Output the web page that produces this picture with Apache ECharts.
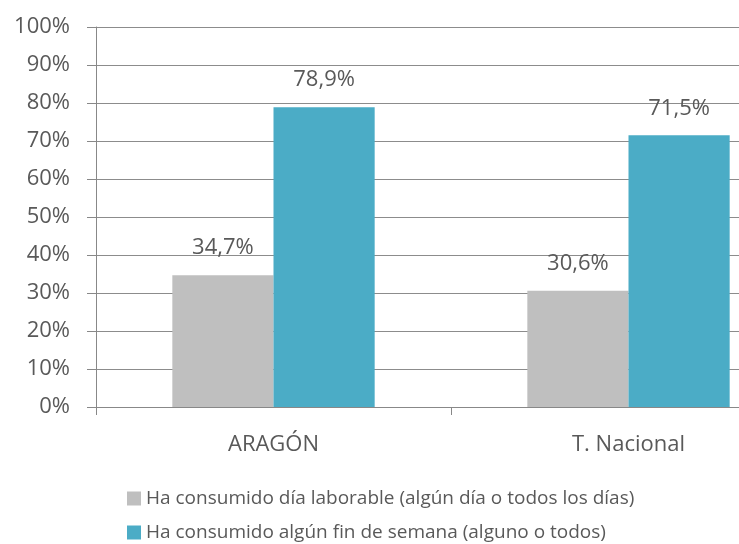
<!DOCTYPE html>
<html>
<head>
<meta charset="utf-8">
<script src="https://cdn.jsdelivr.net/npm/echarts@6/dist/echarts.min.js"></script>
<style>
  html, body { margin: 0; padding: 0; background: #fff; }
  #chart { width: 739px; height: 544px; }
</style>
</head>
<body>
<div id="chart"></div>
<script>
var categories = ['ARAGÓN', 'T. Nacional'];
var seriesNames = [
  'Ha consumido día laborable (algún día o todos los días)',
  'Ha consumido algún fin de semana (alguno o todos)'
];
var laborable = [34.7, 30.6];
var finSemana = [78.9, 71.5];

var ink = '#595959';
var font = 'Open Sans';

function pct(v) { return v.toFixed(1).replace('.', ',') + '%'; }

var chart = echarts.init(document.getElementById('chart'), null, { renderer: 'canvas' });

var labelStyle = {
  show: true,
  position: 'top',
  distance: 16,
  color: ink,
  fontFamily: font,
  fontSize: 22,
  formatter: function(p) { return pct(p.value); }
};

function legendRow(name, top) {
  return {
    left: 122,
    top: top,
    itemWidth: 14,
    itemHeight: 14,
    icon: 'rect',
    textStyle: { color: ink, fontFamily: font, fontSize: 19 },
    data: [name]
  };
}

chart.setOption({
  animation: false,
  backgroundColor: '#fff',
  grid: { left: 96, top: 27, width: 710, height: 380, outerBoundsMode: 'none', containLabel: false },
  legend: [legendRow(seriesNames[0], 484), legendRow(seriesNames[1], 518)],
  xAxis: {
    type: 'category',
    data: categories,
    axisLine: { lineStyle: { color: '#888', width: 1 } },
    axisTick: { show: true, length: 8, lineStyle: { color: '#888' } },
    axisLabel: { color: ink, fontFamily: font, fontSize: 22, margin: 27 }
  },
  yAxis: {
    type: 'value',
    min: 0,
    max: 100,
    interval: 10,
    axisLine: { show: true, lineStyle: { color: '#888', width: 1 } },
    axisTick: { show: true, length: 9, lineStyle: { color: '#888' } },
    axisLabel: { color: ink, fontFamily: font, fontSize: 22, margin: 26, formatter: '{value}%' },
    splitLine: { lineStyle: { color: '#8c8c8c', width: 1 } }
  },
  series: [
    {
      name: seriesNames[0],
      type: 'bar',
      data: laborable,
      barGap: '0%',
      barCategoryGap: '43%',
      itemStyle: { color: '#bfbfbf' },
      label: labelStyle
    },
    {
      name: seriesNames[1],
      type: 'bar',
      data: finSemana,
      itemStyle: { color: '#4bacc6' },
      label: labelStyle
    }
  ]
});
</script>
</body>
</html>
